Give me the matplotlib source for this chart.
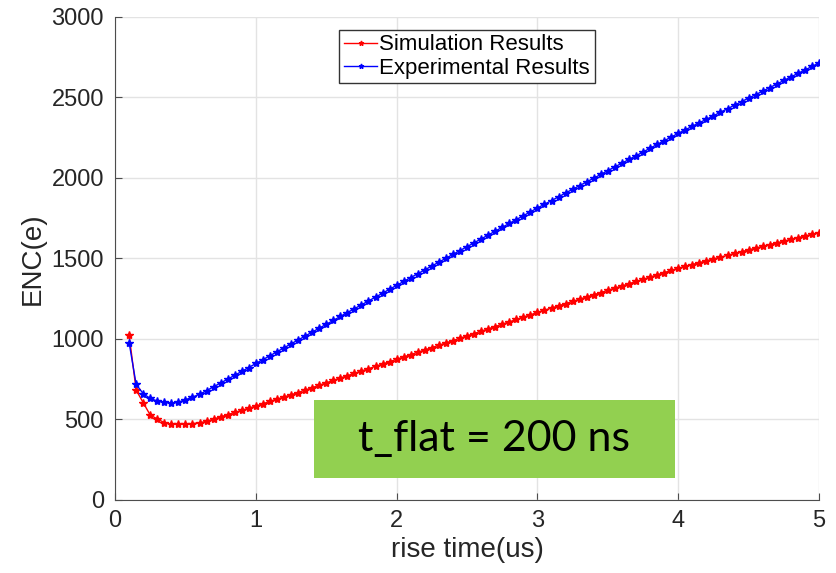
import numpy as np
import matplotlib.pyplot as plt
from matplotlib.patches import Rectangle

# rise time grid (us), sampled every 0.05 us from 0.1 to 5
rise_time = np.round(np.arange(0.1, 5.0001, 0.05), 2)

# ENC (electrons)
enc_simulation = [
    1023, 682, 604, 527, 503, 480, 470, 469, 470, 474,
    479, 488, 502, 516, 530, 543, 556, 570, 583, 597,
    612, 626, 639, 653, 667,
    682, 697, 712, 727, 742, 757, 771, 786, 800, 815, 829, 844, 858, 873,
    888, 902, 917, 931, 946, 960, 975, 989, 1004, 1018,
    1033, 1047, 1062, 1076, 1091, 1105, 1120, 1135, 1149, 1164,
    1178, 1191, 1205, 1219, 1232, 1246, 1260, 1274, 1287, 1301,
    1315, 1328, 1342, 1356, 1369, 1383, 1397, 1411, 1424, 1438,
    1450, 1461, 1473, 1484, 1496, 1507, 1518, 1530, 1541, 1552,
    1563, 1574, 1585, 1596, 1606, 1617, 1628, 1638, 1649, 1659,
]
enc_experimental = [
    977, 717, 660, 630, 614, 605, 601, 607, 622, 638, 656,
    678, 703, 726, 750, 774, 798, 822, 847, 871, 895,
    920, 944, 969, 993, 1017, 1042, 1066, 1090, 1114, 1139,
    1163, 1187, 1211, 1235, 1259, 1283, 1308, 1332,
    1356, 1380, 1404, 1428, 1452, 1476, 1500, 1524, 1548, 1572,
    1596, 1620, 1644, 1668, 1692, 1716, 1740, 1764, 1788, 1812,
    1835, 1858, 1881, 1905, 1928, 1951, 1974, 1997, 2020, 2044,
    2067, 2090, 2113, 2136, 2159, 2183, 2206, 2229, 2252, 2275,
    2297, 2319, 2341, 2362, 2384, 2406, 2428, 2450, 2472, 2494,
    2515, 2537, 2559, 2581, 2603, 2625, 2647, 2668, 2690, 2712,
]
series_labels = ['Simulation Results', 'Experimental Results']
note_text = 't_flat = 200 ns'

plt.rcParams['font.family'] = ['Liberation Sans', 'DejaVu Sans']

fig = plt.figure(figsize=(8.36, 5.73), dpi=100)
ax = fig.add_axes([0.1376, 0.1274, 0.8421, 0.8438])

ax.plot(rise_time, enc_simulation, '-*', color='red', lw=1, ms=6,
        label=series_labels[0])
ax.plot(rise_time, enc_experimental, '-*', color='blue', lw=1, ms=6,
        label=series_labels[1])

ax.set_xlim(0, 5)
ax.set_ylim(0, 3000)
ax.set_xticks([0, 1, 2, 3, 4, 5])
ax.set_yticks(np.arange(0, 3001, 500))
ax.grid(True, color='#e3e3e3', lw=1)
ax.set_axisbelow(True)
for side in ['top', 'right']:
    ax.spines[side].set_visible(False)
for side in ['left', 'bottom']:
    ax.spines[side].set_color('#4d4d4d')
ax.tick_params(direction='in', length=5, color='#4d4d4d',
               labelsize=17, labelcolor='#262626')
ax.tick_params(axis='y', pad=8)
ax.tick_params(axis='x', pad=7)

ax.set_xlabel('rise time(us)', fontsize=20, color='#262626', labelpad=4)
ax.set_ylabel('ENC(e)', fontsize=20, color='#262626', labelpad=4)

leg = ax.legend(loc='upper center', bbox_to_anchor=(0.5, 0.995), fontsize=16,
                handlelength=1.5, handletextpad=0.1, labelspacing=0.1,
                borderpad=0.2, fancybox=False, framealpha=1, markerscale=0.6)
leg.get_frame().set_edgecolor('#333333')
leg.get_frame().set_linewidth(1)

# green annotation box laid on top of the chart
fig.patches.append(Rectangle((0.3756, 0.1658), 0.4318, 0.1361,
                             transform=fig.transFigure, facecolor='#92d050',
                             edgecolor='none', zorder=5))
fig.text(0.5915, 0.2339, note_text, ha='center', va='center', fontsize=31,
         family='Lato', color='black', zorder=6)

fig.savefig('out.png', dpi=100)
